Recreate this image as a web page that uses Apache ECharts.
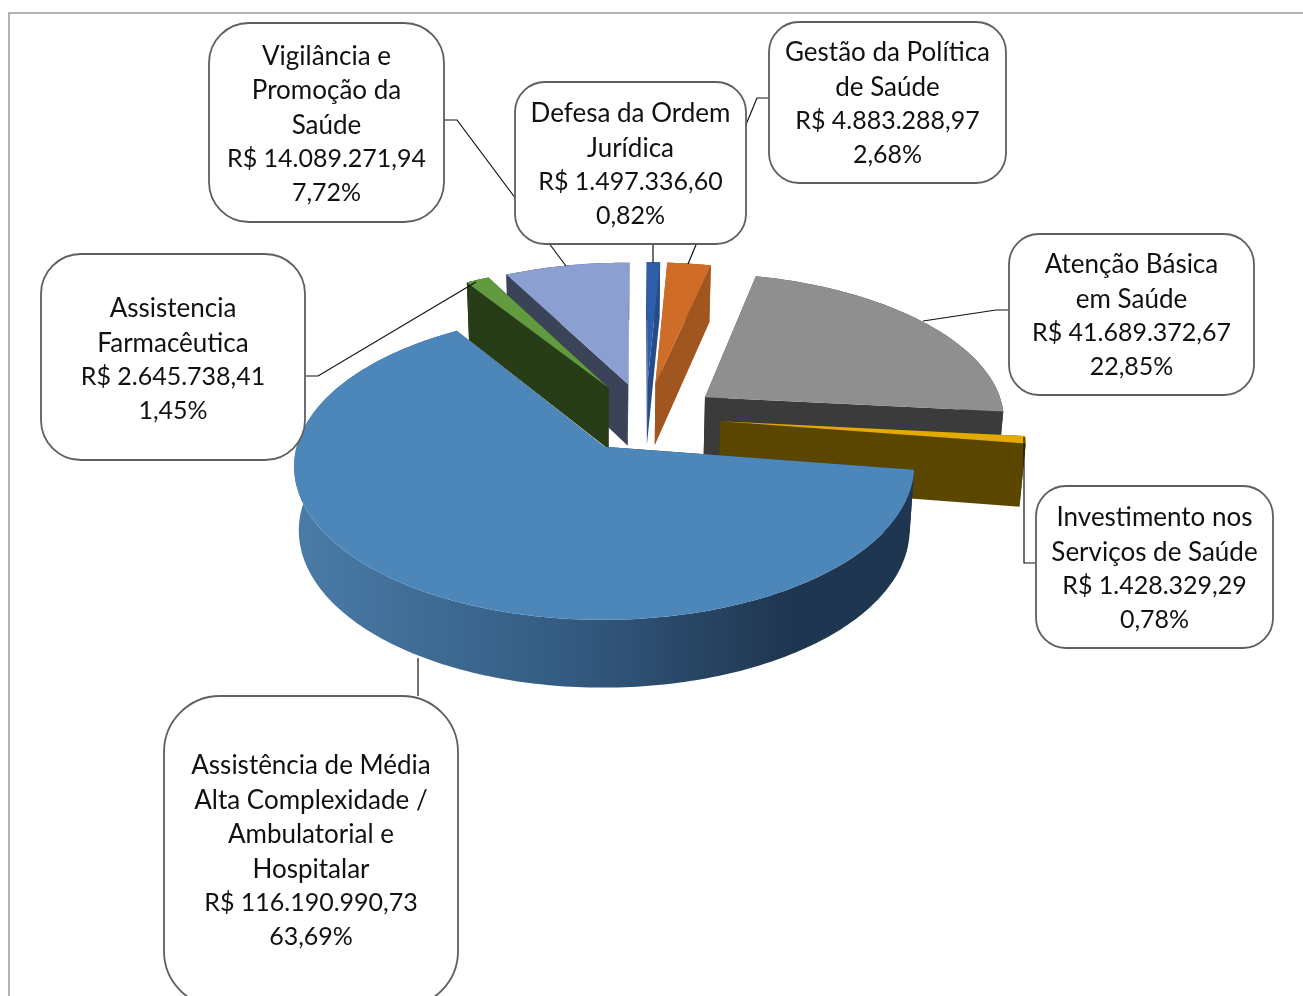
<!DOCTYPE html>
<html><head><meta charset="utf-8">
<style>html,body{margin:0;padding:0;background:#fff}#c{width:1303px;height:996px}</style>
<script src="https://cdn.jsdelivr.net/npm/echarts@6/dist/echarts.min.js"></script>
</head><body><div id="c"></div>
<script>
// ---- data (clockwise from 12 o'clock)
const categories = [
  'Defesa da Ordem\nJurídica',
  'Gestão da Política\nde Saúde',
  'Atenção Básica\nem Saúde',
  'Investimento nos\nServiços de Saúde',
  'Assistência de Média\nAlta Complexidade /\nAmbulatorial e\nHospitalar',
  'Assistencia\nFarmacêutica',
  'Vigilância e\nPromoção da\nSaúde'
];
const values = [1497336.60, 4883288.97, 41689372.67, 1428329.29, 116190990.73, 2645738.41, 14089271.94];
const topColors  = ['#2f5ea8','#cf6d28','#8f8f8f','#e4aa00','#4d86b9','#629b3f','#8c9fd1'];
const sideColors = ['#264c88','#a2561f','#3b3b3b','#5b4600','#1f3650','#263d17','#3a4358'];
// ---- layout
const paintOrder = [1,0,6,5,2,3,4];
const startDeg = 0.9, explodeX = 0.25, explodeY = 0.24;
const view = {cx:645.5, cy:417, f:300, g:144, k:0.123, shear:4.5, depth:62.5, depthK:0.07, vx:610, shrink:0.985};
const LINE = 34.4;
const boxes = [
  {x:515,y:82,w:231,h:162,r:30,ty:164.5},
  {x:769,y:22,w:237,h:161,r:30,ty:103.5},
  {x:1009,y:234,w:245,h:161,r:30,ty:315.5},
  {x:1036,y:486,w:237,h:162,r:30,ty:568.5},
  {x:164,y:696,w:294,h:311,r:56,ty:851},
  {x:41,y:254,w:264,h:206,r:40,ty:359.5},
  {x:209,y:23,w:235,h:199,r:40,ty:124.5}
];
const leaders = [
  [[653,243],[653,263]],
  [[768,98],[757,98],[688,264]],
  [[1008,310],[996,310],[923,321]],
  [[1035,563],[1024,563],[1024,437]],
  [[418,696],[418,658]],
  [[306,376],[318,376],[476,282]],
  [[444,120],[457,120],[566,266]]
];
const frame = [[9,996],[9,13],[1303,13]];

const total = values.reduce((a,b)=>a+b,0);
const RAD = Math.PI/180;
function money(v){
  const [i,d] = v.toFixed(2).split('.');
  return 'R$ ' + i.replace(/\B(?=(\d{3})+$)/g,'.') + ',' + d;
}
function pct(v){ return (v/total*100).toFixed(2).replace('.',',') + '%'; }
function topPt(X,Y){
  const w = 1+view.k*Y;
  return [view.cx+view.f*X/w-view.shear*Y, view.cy-view.g*Y/w];
}
function botPt(X,Y){
  const p = topPt(X,Y);
  return [view.vx+(p[0]-view.vx)*view.shrink, p[1]+view.depth*(1-view.depthK*Y)];
}
let cum = startDeg;
const slices = values.map(v=>{ const a0=cum, a1=cum+v/total*360; cum=a1; return {a0,a1}; });

function wedgeShapes(i){
  const {a0,a1} = slices[i];
  const b = (a0+a1)/2*RAD;
  const ox = explodeX*Math.sin(b), oy = explodeY*Math.cos(b);
  const rim = [];
  const n = Math.max(2,Math.ceil((a1-a0)));
  for(let s=0;s<=n;s++){
    const t=(a0+(a1-a0)*s/n)*RAD;
    rim.push([ox+Math.sin(t),oy+Math.cos(t)]);
  }
  const T = q=>topPt(q[0],q[1]), B = q=>botPt(q[0],q[1]);
  const apex=[ox,oy];
  const side = sideColors[i];
  const sideFill = i===4 ? new echarts.graphic.LinearGradient(0,0,1,0,[
      {offset:0,color:'#4a7ca8'},{offset:0.45,color:'#335a80'},{offset:0.8,color:'#1f3650'},{offset:1,color:'#1f3650'}]) : side;
  const poly=(pts,fill)=>({type:'polygon',silent:true,shape:{points:pts},style:{fill:fill,stroke:null}});
  const out=[];
  out.push(poly([T(apex),T(rim[0]),B(rim[0]),B(apex)],side));
  out.push(poly([T(apex),T(rim[n]),B(rim[n]),B(apex)],side));
  out.push(poly(rim.map(T).concat(rim.slice().reverse().map(B)),sideFill));
  out.push(poly([T(apex)].concat(rim.map(T)),topColors[i]));
  return out;
}

const chart = echarts.init(document.getElementById('c'),null,{renderer:'canvas'});
chart.setOption({
  animation:false,
  backgroundColor:'#fff',
  tooltip:{show:false},
  series:[
    {type:'custom',name:'frame',coordinateSystem:'none',z:1,silent:true,data:[[0]],
     renderItem:()=>({type:'polyline',silent:true,shape:{points:frame},style:{fill:null,stroke:'#9a9a9a',lineWidth:1.5}})},
    {type:'custom',name:'fatias',coordinateSystem:'none',z:2,silent:true,
     data:paintOrder.map(i=>({name:categories[i].replace(/\n/g,' '),value:[values[i],i]})),
     renderItem:(p,api)=>({type:'group',children:wedgeShapes(api.value(1))})},
    {type:'custom',name:'linhas',coordinateSystem:'none',z:3,silent:true,
     data:values.map((v,i)=>[v,i]),
     renderItem:(p,api)=>({type:'polyline',silent:true,shape:{points:leaders[api.value(1)]},style:{fill:null,stroke:'#111',lineWidth:1.2}})},
    {type:'custom',name:'rotulos',coordinateSystem:'none',z:4,silent:true,
     data:values.map((v,i)=>[v,i]),
     renderItem:(p,api)=>{
       const i=api.value(1), b=boxes[i], v=api.value(0);
       const m=categories[i].split('\n').length, y0=b.ty-(m+2)*LINE/2, cx=b.x+b.w/2;
       const txt=(text,y,size)=>({type:'text',silent:true,style:{x:cx,y:y,align:'center',verticalAlign:'top',text:text,
           fontFamily:'Lato, "Open Sans", sans-serif',fontSize:size,lineHeight:LINE,fill:'#111'}});
       return {type:'group',children:[
         {type:'rect',silent:true,shape:{x:b.x,y:b.y,width:b.w,height:b.h,r:b.r},style:{fill:'#fff',stroke:'#5f5f5f',lineWidth:1.8}},
         txt(categories[i],y0+1,26),
         txt(money(v)+'\n'+pct(v),y0+m*LINE,25)
       ]};
     }}
  ]
});
</script></body></html>
